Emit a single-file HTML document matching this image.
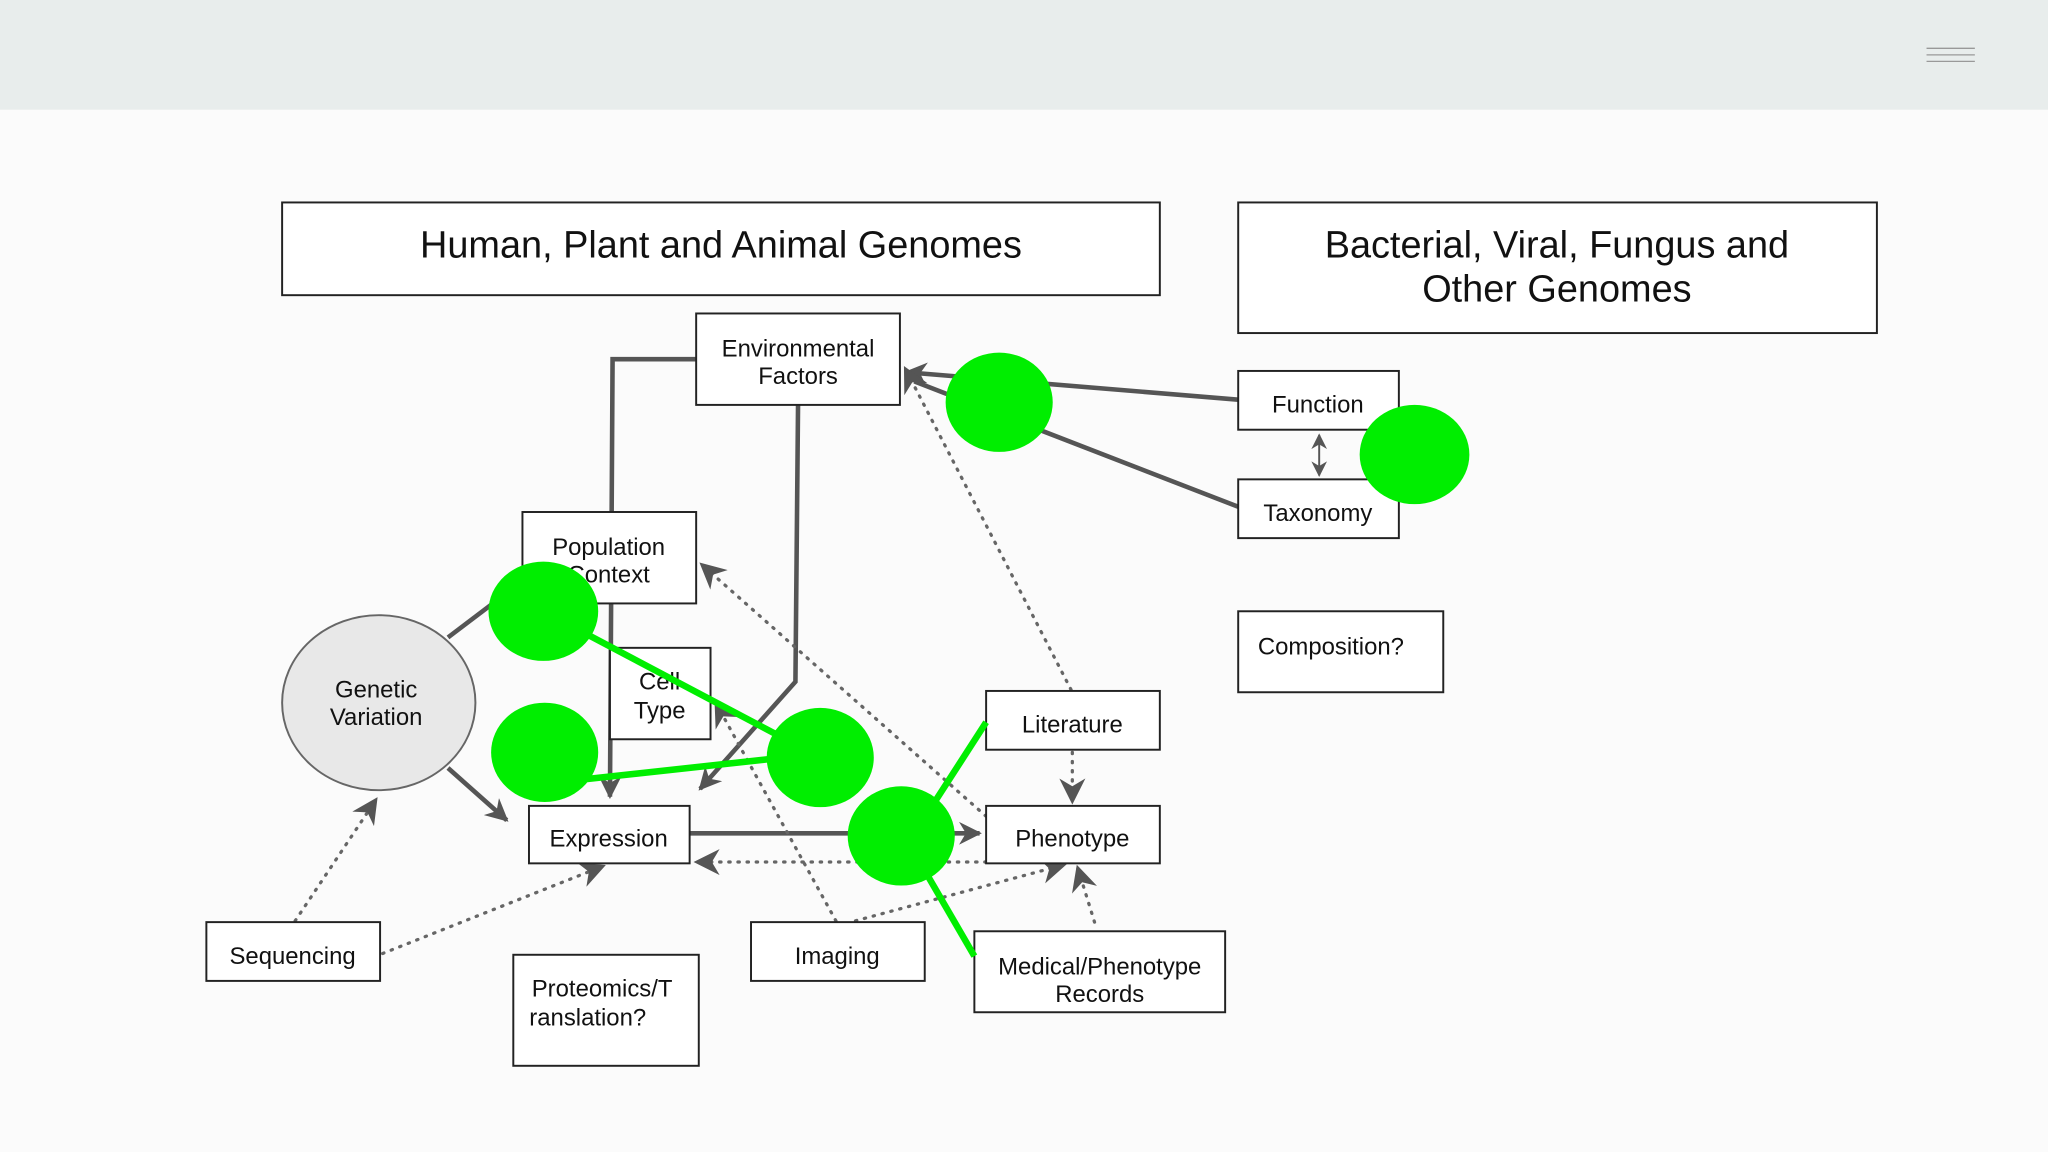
<!DOCTYPE html>
<html><head><meta charset="utf-8"><style>
html,body{margin:0;padding:0;width:2048px;height:1152px;overflow:hidden;background:#fbfbfb}
svg{display:block}
text{font-family:"Liberation Sans",Arial,sans-serif;fill:#111}
</style></head><body>
<svg width="2048" height="1152" viewBox="0 0 1568 882" xmlns="http://www.w3.org/2000/svg">
<defs>
<marker id="a" viewBox="0 0 10 10" refX="9" refY="5" markerWidth="5" markerHeight="5" orient="auto-start-reverse"><path d="M0,0 L10,5 L0,10 L3,5 z" fill="#555"/></marker>
<marker id="s" viewBox="0 0 10 10" refX="9" refY="5" markerWidth="8" markerHeight="8" orient="auto-start-reverse"><path d="M0,0 L10,5 L0,10 L3,5 z" fill="#555"/></marker>
</defs>
<rect x="0" y="0" width="1568" height="84" fill="#e8edec"/>
<g stroke="#999" stroke-width="1"><line x1="1475" y1="37" x2="1512" y2="37"/><line x1="1475" y1="42" x2="1512" y2="42"/><line x1="1475" y1="47" x2="1512" y2="47"/></g>

<g fill="none" stroke="#555" stroke-width="3.5">
<polyline points="533,275 469,275 467,610" marker-end="url(#a)"/>
<polyline points="611,310 609,522 536,604" marker-end="url(#a)"/>
<line x1="948" y1="306" x2="694" y2="285" marker-end="url(#a)"/>
<line x1="948" y1="388" x2="700" y2="292"/>
<line x1="343" y1="488" x2="380" y2="460"/>
<line x1="343" y1="588" x2="388" y2="628" marker-end="url(#a)"/>
<line x1="528" y1="638" x2="750" y2="638" marker-end="url(#a)"/>
</g>
<line x1="1010" y1="333" x2="1010" y2="364" stroke="#555" stroke-width="1.5" marker-start="url(#s)" marker-end="url(#s)"/>
<g fill="none" stroke="#666" stroke-width="2.5" stroke-dasharray="1,6" stroke-linecap="round">
<line x1="226" y1="705" x2="288" y2="612" marker-end="url(#s)"/>
<line x1="293" y1="730" x2="462" y2="663" marker-end="url(#s)"/>
<line x1="820" y1="528" x2="693" y2="282" marker-end="url(#s)"/>
<line x1="821" y1="576" x2="821" y2="614" marker-end="url(#s)"/>
<line x1="755" y1="625" x2="537" y2="432" marker-end="url(#s)"/>
<line x1="755" y1="660" x2="533" y2="660" marker-end="url(#s)"/>
<line x1="640" y1="705" x2="548" y2="538" marker-end="url(#s)"/>
<line x1="655" y1="705" x2="815" y2="662" marker-end="url(#s)"/>
<line x1="838" y1="706" x2="825" y2="664" marker-end="url(#s)"/>
</g>

<g fill="#fff" stroke="#222" stroke-width="1.5">
<rect x="216" y="155" width="672" height="71"/>
<rect x="948" y="155" width="489" height="100"/>
<rect x="533" y="240" width="156" height="70"/>
<rect x="948" y="284" width="123" height="45"/>
<rect x="948" y="367" width="123" height="45"/>
<rect x="948" y="468" width="157" height="62"/>
<rect x="400" y="392" width="133" height="70"/>
<rect x="467" y="496" width="77" height="70"/>
<rect x="405" y="617" width="123" height="44"/>
<rect x="755" y="529" width="133" height="45"/>
<rect x="755" y="617" width="133" height="44"/>
<rect x="158" y="706" width="133" height="45"/>
<rect x="393" y="731" width="142" height="85"/>
<rect x="575" y="706" width="133" height="45"/>
<rect x="746" y="713" width="192" height="62"/>
</g>
<ellipse cx="290" cy="538" rx="74" ry="67" fill="#e8e8e8" stroke="#666" stroke-width="1.5"/>

<g font-size="18.3" text-anchor="middle">
<text x="552" y="197" font-size="29">Human, Plant and Animal Genomes</text>
<text x="1192" y="197" font-size="29">Bacterial, Viral, Fungus and</text>
<text x="1192" y="231" font-size="29">Other Genomes</text>
<text x="611" y="273">Environmental</text><text x="611" y="294">Factors</text>
<text x="1009" y="316">Function</text>
<text x="1009" y="399">Taxonomy</text>
<text x="1019" y="501">Composition?</text>
<text x="466" y="425">Population</text><text x="466" y="446">Context</text>
<text x="505" y="528">Cell</text><text x="505" y="550">Type</text>
<text x="288" y="534">Genetic</text><text x="288" y="555">Variation</text>
<text x="466" y="648">Expression</text>
<text x="821" y="561">Literature</text>
<text x="821" y="648">Phenotype</text>
<text x="224" y="738">Sequencing</text>
<text x="461" y="763">Proteomics/T</text><text x="450" y="785">ranslation?</text>
<text x="641" y="738">Imaging</text>
<text x="842" y="746">Medical/Phenotype</text><text x="842" y="767">Records</text>
</g>

<g stroke="#00ee00" stroke-width="5" fill="none">
<line x1="416" y1="468" x2="628" y2="580"/>
<line x1="417" y1="600" x2="600" y2="580"/>
<line x1="715" y1="615" x2="755" y2="553"/>
<line x1="710" y1="670" x2="746" y2="732"/>
</g>
<g fill="#00ee00">
<ellipse cx="765" cy="308" rx="41" ry="38"/>
<ellipse cx="1083" cy="348" rx="42" ry="38"/>
<ellipse cx="416" cy="468" rx="42" ry="38"/>
<ellipse cx="417" cy="576" rx="41" ry="38"/>
<ellipse cx="628" cy="580" rx="41" ry="38"/>
<ellipse cx="690" cy="640" rx="41" ry="38"/>
</g>
</svg>
</body></html>
